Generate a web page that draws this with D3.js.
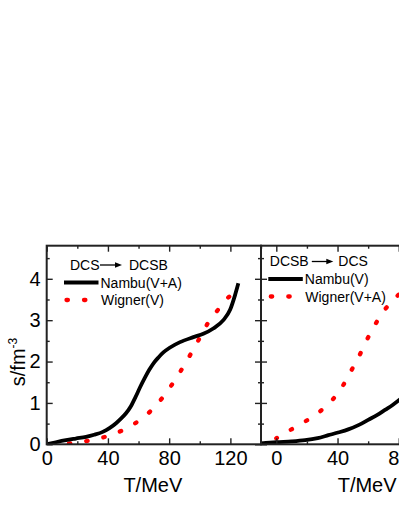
<!DOCTYPE html>
<html>
<head>
<meta charset="utf-8">
<script src="https://cdn.jsdelivr.net/npm/d3@7"></script>
<style>
  body { margin: 0; background: #fff; }
  svg { display: block; font-family: "Liberation Sans", Arial, sans-serif; }
  .tick text { font-size: 20px; fill: #000; }
  .tick line { stroke: #222; stroke-width: 1.4; }
</style>
</head>
<body>
<svg id="chart" width="399" height="516"></svg>
<script>
// Left panel: DCS -> DCSB
const leftNambuT = [0, 6, 12.6, 19, 25.7, 31, 36.6, 41, 45.3, 48.5, 51.8, 55, 58, 61, 64, 67, 70, 73, 76.2, 80.6, 87.1, 95.8, 102.3, 108.8, 115.4, 119.8, 123, 125.2];
const leftNambuS = [0, 0.05, 0.10, 0.14, 0.18, 0.23, 0.30, 0.39, 0.51, 0.62, 0.75, 0.92, 1.14, 1.38, 1.60, 1.80, 1.97, 2.10, 2.22, 2.34, 2.47, 2.59, 2.67, 2.80, 3.00, 3.25, 3.60, 3.89];
const leftWignerT = [8, 14.8, 26.1, 37.2, 48.5, 58.3, 67.8, 75.5, 82.3, 88.2, 93.6, 99.5, 105.2, 112.1, 119.3, 121];
const leftWignerS = [0, 0.02, 0.08, 0.17, 0.32, 0.52, 0.80, 1.12, 1.47, 1.81, 2.15, 2.54, 2.92, 3.26, 3.57, 3.62];

// Right panel: DCSB -> DCS
const rightNambuT = [-10, 0, 10, 18.8, 27, 34, 41, 47, 54, 60, 66, 71, 76, 81];
const rightNambuS = [0.02, 0.05, 0.07, 0.10, 0.15, 0.22, 0.29, 0.36, 0.47, 0.59, 0.71, 0.83, 0.95, 1.09];
const rightWignerT = [0, 8.9, 19.2, 28.7, 37.0, 43.4, 48.8, 54.2, 59.0, 64.5, 71.0, 78.7, 82];
const rightWignerS = [0.145, 0.34, 0.56, 0.80, 1.09, 1.41, 1.77, 2.14, 2.51, 2.89, 3.26, 3.57, 3.70];

// Axis ticks
const yMajor = [0, 1, 2, 3, 4];
const yMinor = [0.5, 1.5, 2.5, 3.5, 4.5];
const xMajor = [0, 40, 80, 120];
const xMinor = [20, 60, 100, 140];

const svg = d3.select("#chart");

const plotTop = 245.7, plotBottom = 444.3;
const panelW = 214.3;

const yScale = d3.scaleLinear().domain([0, 4.8]).range([plotBottom, plotTop]);

function zip(ts, ss) {
  return ts.map((t, i) => ({ t: t, s: ss[i] }));
}

function drawPanel(x0, domain, opts) {
  const x = d3.scaleLinear().domain(domain).range([x0, x0 + panelW]);
  const g = svg.append("g");

  const clipId = "clip" + Math.round(x0);
  svg.append("clipPath").attr("id", clipId)
    .append("rect")
    .attr("x", x0).attr("y", plotTop)
    .attr("width", panelW).attr("height", plotBottom - plotTop);

  const line = d3.line()
    .x((d) => x(d.t))
    .y((d) => yScale(d.s))
    .curve(d3.curveMonotoneX);

  // curves
  g.append("path")
    .datum(zip(opts.wignerT, opts.wignerS))
    .attr("clip-path", `url(#${clipId})`)
    .attr("d", line)
    .attr("fill", "none")
    .attr("stroke", "#ff0000")
    .attr("stroke-width", 4.3)
    .attr("stroke-linecap", "round")
    .attr("stroke-dasharray", "1.4,16.1")
    .attr("stroke-dashoffset", opts.dashOffset);

  g.append("path")
    .datum(zip(opts.nambuT, opts.nambuS))
    .attr("clip-path", `url(#${clipId})`)
    .attr("d", line)
    .attr("fill", "none")
    .attr("stroke", "#000")
    .attr("stroke-width", 3.8);

  const xTicks = xMajor.filter((v) => v >= domain[0] && v <= domain[1]);
  const xMin = xMinor.filter((v) => v >= domain[0] && v <= domain[1]);

  // bottom axis
  g.append("g")
    .attr("transform", `translate(0,${plotBottom})`)
    .call(d3.axisBottom(x).tickValues(xTicks).tickSize(-6).tickSizeOuter(0).tickPadding(6.5).tickFormat(d3.format("d")));
  g.append("g")
    .attr("transform", `translate(0,${plotBottom})`)
    .call(d3.axisBottom(x).tickValues(xMin).tickSize(-3).tickSizeOuter(0).tickFormat(""));

  // top axis
  g.append("g")
    .attr("transform", `translate(0,${plotTop})`)
    .call(d3.axisTop(x).tickValues(xTicks).tickSize(-6).tickSizeOuter(0).tickFormat(""));
  g.append("g")
    .attr("transform", `translate(0,${plotTop})`)
    .call(d3.axisTop(x).tickValues(xMin).tickSize(-3).tickSizeOuter(0).tickFormat(""));

  // left axis
  g.append("g")
    .attr("transform", `translate(${x0},0)`)
    .call(d3.axisLeft(yScale).tickValues(yMajor).tickSize(-6).tickSizeOuter(0).tickPadding(6)
      .tickFormat(opts.yLabels ? d3.format("d") : ""));
  g.append("g")
    .attr("transform", `translate(${x0},0)`)
    .call(d3.axisLeft(yScale).tickValues(yMinor).tickSize(-3).tickSizeOuter(0).tickFormat(""));

  // right axis
  g.append("g")
    .attr("transform", `translate(${x0 + panelW},0)`)
    .call(d3.axisRight(yScale).tickValues(yMajor).tickSize(-6).tickSizeOuter(0).tickFormat(""));
  g.append("g")
    .attr("transform", `translate(${x0 + panelW},0)`)
    .call(d3.axisRight(yScale).tickValues(yMinor).tickSize(-3).tickSizeOuter(0).tickFormat(""));

  g.selectAll(".domain").remove();
  g.selectAll("g[font-family]").attr("font-family", null).attr("font-size", null);

  // frame
  g.append("rect")
    .attr("x", x0).attr("y", plotTop)
    .attr("width", panelW).attr("height", plotBottom - plotTop)
    .attr("fill", "none")
    .attr("stroke", "#222")
    .attr("stroke-width", 2);

  // x title
  g.append("text")
    .attr("x", x0 + panelW / 2 - 1)
    .attr("y", 491.5)
    .attr("text-anchor", "middle")
    .attr("font-size", 20)
    .text("T/MeV");

  return { x: x, g: g };
}

const left = drawPanel(46.7, [0, 140], {
  nambuT: leftNambuT, nambuS: leftNambuS,
  wignerT: leftWignerT, wignerS: leftWignerS,
  dashOffset: 7.5, yLabels: true
});

const right = drawPanel(261, [-10, 130], {
  nambuT: rightNambuT, nambuS: rightNambuS,
  wignerT: rightWignerT, wignerS: rightWignerS,
  dashOffset: 0.7, yLabels: false
});

// y title
const yTitle = svg.append("text")
  .attr("transform", "translate(25,362) rotate(-90)")
  .attr("text-anchor", "middle")
  .attr("font-size", 20);
yTitle.append("tspan").text("s/fm");
yTitle.append("tspan").attr("dy", -8).attr("font-size", 12).text("-3");

// legends
function legend(g, lx, ly, arrowText, nambuText, wignerText) {
  const t = g.append("g").attr("transform", `translate(${lx},${ly})`).attr("font-size", 14);
  t.append("text").attr("x", arrowText.x1).attr("y", 4.5).text(arrowText.a);
  t.append("line")
    .attr("x1", arrowText.ax1).attr("x2", arrowText.ax2 - 6)
    .attr("y1", 0).attr("y2", 0)
    .attr("stroke", "#000").attr("stroke-width", 1.3);
  t.append("path")
    .attr("d", `M${arrowText.ax2},0 L${arrowText.ax2 - 7},-2.8 L${arrowText.ax2 - 7},2.8 Z`)
    .attr("fill", "#000");
  t.append("text").attr("x", arrowText.x2).attr("y", 4.5).text(arrowText.b);

  t.append("line")
    .attr("x1", 0).attr("x2", 34.5)
    .attr("y1", 17.5).attr("y2", 17.5)
    .attr("stroke", "#000").attr("stroke-width", 4.2);
  t.append("text").attr("x", 36.5).attr("y", 22.5).text(nambuText);

  t.append("line")
    .attr("x1", 2.5).attr("x2", 22)
    .attr("y1", 35).attr("y2", 35)
    .attr("stroke", "#ff0000").attr("stroke-width", 4.3)
    .attr("stroke-linecap", "round")
    .attr("stroke-dasharray", "1.4,16.1");
  t.append("text").attr("x", 37).attr("y", 40).text(wignerText);
}

legend(svg, 64, 265, { a: "DCS", b: "DCSB", x1: 6, ax1: 36, ax2: 58, x2: 65 },
  "Nambu(V+A)", "Wigner(V)");
legend(svg, 268.3, 261.5, { a: "DCSB", b: "DCS", x1: 1.5, ax1: 43.5, ax2: 65, x2: 70 },
  "Nambu(V)", "Wigner(V+A)");
</script>
</body>
</html>
